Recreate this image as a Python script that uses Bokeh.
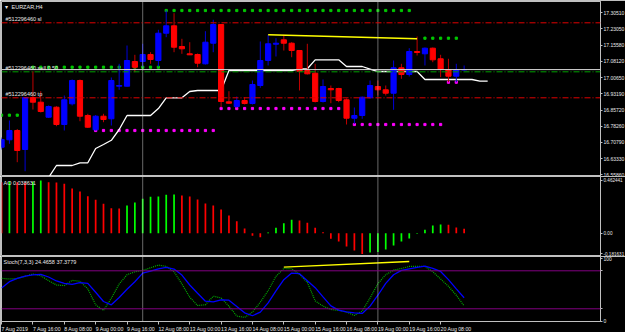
import numpy as np
from bokeh.plotting import figure
from bokeh.layouts import column
from bokeh.models import Range1d, FixedTicker, Label, Span, ColumnDataSource
from bokeh.embed import file_html
from bokeh.resources import INLINE

# ---------------- data ----------------
symbol_title = "EURZAR,H4"
time_labels = ["7 Aug 2019", "7 Aug 16:00", "8 Aug 08:00", "9 Aug 00:00", "9 Aug 16:00",
               "12 Aug 08:00", "13 Aug 00:00", "13 Aug 16:00", "14 Aug 08:00", "15 Aug 00:00",
               "15 Aug 16:00", "16 Aug 08:00", "19 Aug 00:00", "19 Aug 16:00", "20 Aug 08:00"]
time_label_bars = [0, 4, 8, 12, 16, 20, 24, 28, 32, 36, 40, 44, 48, 52, 56]
week_start_bars = [18, 48]

open_ = [16.6858, 16.7199, 16.7628, 16.6752, 16.9148, 16.8932, 16.8240, 16.8701, 16.7904, 16.8858,
         16.9932, 16.8319, 16.7660, 16.8286, 16.8167, 16.9669, 16.9669, 17.0807, 17.0807, 17.1130,
         17.0853, 17.2111, 17.2452, 17.1498, 17.1162, 17.1130, 17.0701, 17.1650, 17.2512, 16.8950,
         16.8734, 16.9010, 16.8872, 16.9701, 17.0853, 17.1604, 17.1807, 17.1650, 17.1314, 17.0392,
         17.0268, 16.8964, 16.9563, 16.9563, 16.9042, 16.8194, 16.8319, 16.9134, 16.9655, 16.9503,
         16.9346, 17.0517, 17.0208, 17.1268, 17.1162, 17.1420, 17.0932, 17.0438, 17.0130, 17.0420]
high = [16.7305, 16.8088, 16.7697, 16.9171, 17.0360, 16.9438, 16.8780, 16.8747, 16.9240, 16.9978,
        16.9978, 16.8397, 16.8342, 16.8397, 17.0070, 17.0701, 17.1544, 17.1116, 17.1623, 17.1236,
        17.2268, 17.3157, 17.3033, 17.1853, 17.1696, 17.1176, 17.2203, 17.2729, 17.2535, 16.9438,
        16.9194, 16.9162, 16.9932, 17.1729, 17.2037, 17.1881, 17.2037, 17.1696, 17.1337, 17.1623,
        17.0701, 16.9978, 16.9701, 16.9595, 16.9102, 16.8687, 16.9194, 16.9932, 16.9932, 16.9701,
        17.0853, 17.0701, 17.1420, 17.1959, 17.1452, 17.1452, 17.1116, 17.0932, 17.0701, 17.0623]
low = [16.6752, 16.7015, 16.6167, 16.5752, 16.8595, 16.8457, 16.8204, 16.7826, 16.7628, 16.8780,
       16.8056, 16.7743, 16.7628, 16.8010, 16.7858, 16.9503, 16.9655, 17.0314, 17.0544, 17.0701,
       17.0577, 17.1927, 17.1236, 17.1162, 17.1102, 17.0544, 17.0669, 17.1236, 16.8701, 16.8849,
       16.8687, 16.8826, 16.8826, 16.9595, 17.0623, 17.1038, 17.1314, 17.1005, 16.9471, 17.0208,
       16.8918, 16.8918, 16.8886, 16.8932, 16.7904, 16.7936, 16.8167, 16.9102, 16.9240, 16.9240,
       16.8581, 17.0010, 17.0116, 17.1084, 17.0623, 17.0775, 17.0084, 16.9853, 16.9853, 17.0392]
close = [16.7213, 16.7628, 16.6706, 16.9148, 16.8932, 16.8503, 16.8734, 16.7904, 16.9042, 16.9932,
         16.8286, 16.7780, 16.8286, 16.8134, 16.9932, 16.9701, 17.0853, 17.0544, 17.1130, 17.0899,
         17.2111, 17.2452, 17.1466, 17.1392, 17.1116, 17.0729, 17.1696, 17.2512, 16.8964, 16.8886,
         16.9010, 16.8872, 16.9747, 17.0853, 17.1623, 17.1650, 17.1650, 17.1314, 17.0360, 17.0240,
         16.8964, 16.9655, 16.9503, 16.9010, 16.8194, 16.8319, 16.9162, 16.9701, 16.9503, 16.9346,
         17.0517, 17.0208, 17.1268, 17.1222, 17.1420, 17.0885, 17.0438, 17.0130, 17.0425, 17.04349]

# stepped channel dots: (first bar, last bar, level)
upper_dot_runs = [(0, 2, 16.8333), (4, 20, 17.0544), (21, 52, 17.3157), (54, 58, 17.1881)]
lower_dot_runs = [(12, 27, 16.7628), (28, 43, 16.8641), (45, 56, 16.7904), (57, 58, 16.9853)]

# white stepped line, bars 5..62
white_line_start = 5
white_line = [16.4900, 16.5462, 16.6015, 16.6015, 16.6015, 16.6139, 16.6139, 16.6798, 16.6982, 16.7176,
              16.7674, 16.8319, 16.8319, 16.8319, 16.8319, 16.8641, 16.9134, 16.9134, 16.9134, 16.9425,
              16.9471, 16.9471, 16.9471, 16.9471, 17.0392, 17.0392, 17.0392, 17.0392, 17.0392, 17.0392,
              17.0392, 17.0392, 17.0392, 17.0471, 17.0471, 17.0885, 17.0885, 17.0885, 17.0885, 17.0577,
              17.0577, 17.0577, 17.0461, 17.0346, 17.0346, 17.0346, 17.0346, 17.0346, 17.0346, 16.9978,
              16.9978, 16.9978, 16.9978, 16.9978, 16.9978, 16.9978, 16.9899, 16.9899]

trend_bars = [34, 53]
trend_prices = [17.2037, 17.1853]

order_id = "#512296460"
sl_price = 17.2590
tp_price = 16.9134
open_price = 17.0332
price_ticks = [17.30510, 17.23050, 17.15580, 17.08120, 17.00650, 16.93190,
               16.85720, 16.78260, 16.70790, 16.63330, 16.55860]

ao = [0.4474, 0.4535, 0.4474, 0.4421, 0.4510, 0.4624, 0.4474, 0.4447, 0.4333, 0.3921,
      0.3658, 0.3246, 0.2930, 0.2579, 0.2193, 0.2167, 0.2430, 0.2693, 0.3018, 0.3193,
      0.3219, 0.3368, 0.3395, 0.3307, 0.3219, 0.2956, 0.2605, 0.2430, 0.2079, 0.1553,
      0.1053, 0.0412, -0.0228, -0.0351, 0.0061, 0.0474, 0.0877, 0.1175, 0.1114, 0.0912,
      0.0474, 0.0088, -0.0491, -0.0728, -0.1167, -0.1518, -0.1816, -0.1693, -0.1649, -0.1430,
      -0.1079, -0.0728, -0.0465, -0.0053, 0.0298, 0.0675, 0.0763, 0.0746, 0.0500, 0.038631]
ao_ticks = [0.462441, 0.0, -0.181631]
ao_tick_labels = ["0.462441", "0.00", "-0.181631"]

stoch_main = [68.1, 67.0, 67.8, 71.2, 74.9, 72.2, 64.4, 57.6, 56.6, 64.9,
              63.4, 51.4, 26.3, 17.4, 36.7, 59.2, 73.8, 78.5, 80.6, 84.8,
              89.0, 86.9, 78.5, 59.2, 38.3, 25.2, 26.3, 39.9, 37.2, 24.2,
              8.5, 6.4, 14.8, 30.4, 48.7, 71.2, 83.7, 83.2, 74.3, 61.8,
              32.5, 24.2, 18.9, 17.4, 14.8, 9.5, 16.3, 37.2, 59.7, 73.8,
              81.1, 83.7, 86.9, 86.9, 86.9, 78.5, 67.0, 55.5, 41.4, 24.4658]
stoch_signal = [52.9, 62.8, 68.1, 71.7, 73.6, 74.3, 70.2, 63.9, 60.2, 58.7,
                61.3, 60.2, 46.1, 31.5, 26.3, 37.8, 50.8, 62.8, 76.4, 79.6,
                83.2, 85.3, 82.7, 73.3, 57.6, 44.6, 32.0, 31.0, 34.1, 33.6,
                23.7, 13.7, 9.0, 14.8, 29.4, 48.2, 66.0, 76.4, 75.4, 64.4,
                53.4, 38.8, 24.7, 17.9, 15.3, 13.7, 12.7, 24.2, 41.4, 60.2,
                73.8, 80.6, 83.2, 85.3, 87.4, 83.7, 79.0, 66.0, 51.4, 37.3779]
stoch_levels = [80, 20]
stoch_trend_bars = [36, 52]
stoch_trend_vals = [85.7, 94.7]

# ---------------- build ----------------
n = len(close)
bars = list(range(n))
FONT = "Liberation Sans"
GREY = "#c0c0c0"
xr = Range1d(-0.01, 76.393)


def style(p, fs="5px"):
    p.background_fill_color = "black"
    p.border_fill_color = "black"
    p.outline_line_color = GREY
    p.outline_line_width = 1
    p.grid.visible = False
    for ax in p.yaxis:
        ax.axis_line_color = GREY
        ax.major_tick_line_color = GREY
        ax.minor_tick_line_color = None
        ax.major_tick_out = 2
        ax.major_tick_in = 0
        ax.major_label_text_color = "#e8e8e8"
        ax.major_label_text_font = FONT
        ax.major_label_text_font_size = fs
        ax.major_label_standoff = 1
    for b in week_start_bars:
        p.add_layout(Span(location=b, dimension="height", line_color="#d0d0d0",
                          line_dash="1 1", line_width=1))


common = dict(frame_width=599, min_border_left=1, min_border_right=25, x_range=xr,
              x_axis_location=None, y_axis_location="right",
              output_backend="svg", toolbar_location=None)

# main price panel
p1 = figure(frame_height=175, min_border_top=1, min_border_bottom=0,
            y_range=Range1d(16.5508, 17.3572), **common)
style(p1)
p1.yaxis.ticker = FixedTicker(ticks=price_ticks)
p1.yaxis.major_label_overrides = {t: f"{t:.5f}" for t in price_ticks}

bull = [c >= o for o, c in zip(open_, close)]
src = ColumnDataSource(dict(
    x=bars, h=high, l=low,
    top=[max(o, c) for o, c in zip(open_, close)],
    bot=[min(o, c) for o, c in zip(open_, close)],
    body=["#0000ff" if b else "#ff0000" for b in bull],
    wick=["#0000d8" if b else "#c00000" for b in bull],
))

# order lines
p1.add_layout(Span(location=sl_price, dimension="width", line_color="#e00000",
                   line_dash="6 2 1 2", line_width=1))
p1.add_layout(Span(location=tp_price, dimension="width", line_color="#e00000",
                   line_dash="6 2 1 2", line_width=1))
p1.add_layout(Span(location=open_price, dimension="width", line_color="#00a000",
                   line_dash="6 2 1 2", line_width=1))
p1.add_layout(Span(location=close[-1], dimension="width", line_color="#d8d8d8", line_width=1))

# channel dots
ux, uy, lx, ly = [], [], [], []
for a, b, v in upper_dot_runs:
    for i in range(a, b + 1):
        ux.append(i); uy.append(v)
for a, b, v in lower_dot_runs:
    for i in range(a, b + 1):
        lx.append(i); ly.append(v)
p1.scatter(ux, uy, marker="square", size=2.2, color="#00c800")
p1.scatter(lx, ly, marker="square", size=2.2, color="#ff00ff")

# white stepped line
wx = list(range(white_line_start, white_line_start + len(white_line)))
p1.line(wx, white_line, line_color="white", line_width=1.3)

p1.segment(x0="x", y0="h", x1="x", y1="l", line_color="wick", line_width=1, source=src)
p1.vbar(x="x", width=0.66, top="top", bottom="bot", fill_color="body", line_color="body",
        line_width=1, source=src)

p1.line(trend_bars, trend_prices, line_color="#ffff00", line_width=1.5)

lab = dict(text_font=FONT, text_font_size="5.5px", text_color="#e8e8e8")
p1.add_layout(Label(x=xr.start, y=p1.y_range.end, x_offset=3, y_offset=-2, text="\u25be",
                    text_baseline="top", **lab))
p1.add_layout(Label(x=xr.start, y=p1.y_range.end, x_offset=10, y_offset=-2, text=symbol_title,
                    text_baseline="top", **lab))
p1.add_layout(Label(x=xr.start, y=sl_price, x_offset=4, y_offset=1, text=f"{order_id} sl",
                    text_baseline="bottom", **lab))
p1.add_layout(Label(x=xr.start, y=open_price, x_offset=4, y_offset=1, text=f"{order_id} sell 0.50",
                    text_baseline="bottom", **lab))
p1.add_layout(Label(x=xr.start, y=tp_price, x_offset=4, y_offset=1, text=f"{order_id} tp",
                    text_baseline="bottom", **lab))
p1.add_layout(Label(x=xr.end, y=close[-1], x_offset=1, text=f"{close[-1]:.5f}",
                    text_baseline="middle", text_font=FONT, text_font_size="5px",
                    text_color="black", background_fill_color="white"))

# AO panel
p2 = figure(frame_height=80, min_border_top=0, min_border_bottom=0,
            y_range=Range1d(-0.2044, 0.4974), **common)
style(p2, fs="4.6px")
p2.yaxis.ticker = FixedTicker(ticks=ao_ticks)
p2.yaxis.major_label_overrides = dict(zip(ao_ticks, ao_tick_labels))
ao_col = ["#ff0000"] + ["#00ff00" if ao[i] > ao[i - 1] else "#ff0000" for i in range(1, n)]
p2.vbar(x=bars, width=0.22, top=ao, bottom=0, fill_color=ao_col, line_color=None)
p2.add_layout(Label(x=xr.start, y=p2.y_range.end, x_offset=2, y_offset=-3,
                    text=f"AO {ao[-1]:.6f}", text_baseline="top", **lab))

# Stochastic panel
p3 = figure(frame_height=65, min_border_top=0, min_border_bottom=11,
            y_range=Range1d(-0.06, 102.58), frame_width=599, min_border_left=1,
            min_border_right=25, x_range=xr, y_axis_location="right",
            output_backend="svg", toolbar_location=None)
style(p3)
p3.yaxis.ticker = FixedTicker(ticks=[100, 80, 20, 0])
p3.yaxis.major_label_overrides = {100: "100", 80: "", 20: "", 0: "0"}
for lv in stoch_levels:
    p3.add_layout(Span(location=lv, dimension="width", line_color="#800080", line_width=1))
    p3.add_layout(Label(x=xr.end, y=lv, x_offset=2, text=str(lv), text_baseline="middle",
                        text_font=FONT, text_font_size="5px", text_color="#e0b0e0",
                        background_fill_color="#800080"))
p3.line(bars, stoch_main, line_color="#00b000", line_width=1.2, line_dash="1 1")
p3.line(bars, stoch_signal, line_color="#0000ff", line_width=1.3)
p3.line(stoch_trend_bars, stoch_trend_vals, line_color="#ffff00", line_width=1.3)
p3.add_layout(Label(x=xr.start, y=p3.y_range.end, x_offset=2, y_offset=-2,
                    text=f"Stoch(7,3,3) {stoch_main[-1]:.4f} {stoch_signal[-1]:.4f}",
                    text_baseline="top", **lab))
xa = p3.xaxis[0]
xa.ticker = FixedTicker(ticks=time_label_bars)
xa.major_label_overrides = dict(zip(time_label_bars, time_labels))
xa.axis_line_color = GREY
xa.major_tick_line_color = GREY
xa.minor_tick_line_color = None
xa.major_tick_out = 3
xa.major_tick_in = 0
xa.major_label_orientation = -1e-6
xa.major_label_standoff = 4
xa.major_label_text_color = "#e8e8e8"
xa.major_label_text_font = FONT
xa.major_label_text_font_size = "5.2px"

layout = column(p1, p2, p3, spacing=0)
open("out.html", "w").write(file_html(layout, INLINE))
